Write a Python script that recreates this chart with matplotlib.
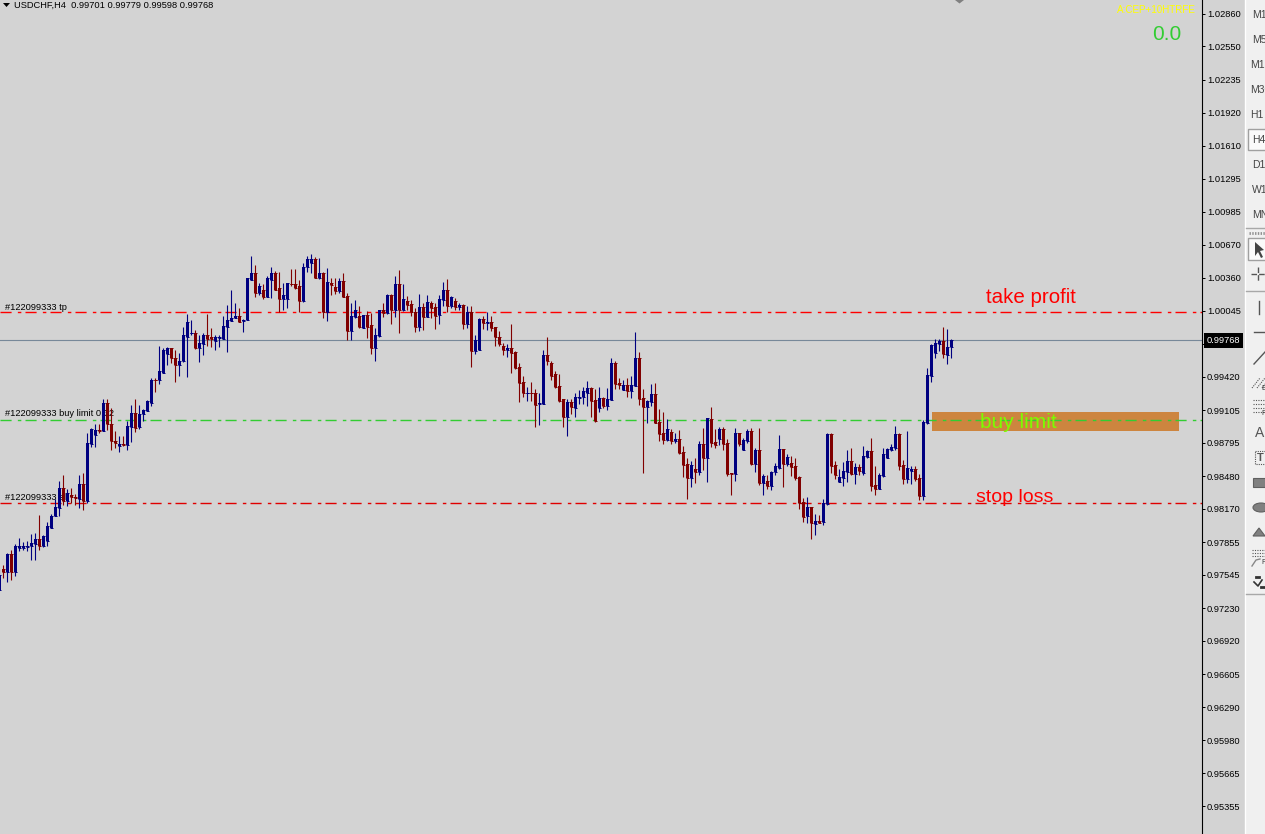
import matplotlib
matplotlib.use('Agg')
import matplotlib.pyplot as plt
import matplotlib.patches as mpatches
import numpy as np

# USDCHF H4 candles, prices in points (1e-5)
opens = [
  97405,97595,97569,97737,97569,97803,97797,97812,97816,97841,
  97888,97816,97860,97992,98100,98176,98371,98239,98305,98286,
  98267,98400,98239,98788,98873,98920,98902,99167,98977,98816,
  98760,98788,98778,98949,99081,98949,99063,99100,99176,99394,
  99385,99460,99631,99688,99602,99527,99565,99801,99830,99839,
  99697,99735,99820,99792,99754,99789,99782,99896,99947,99972,
  100000,99947,99956,100341,100398,100218,100246,100180,100341,100398,
  100256,100161,100152,100303,100303,100275,100133,100455,100493,100531,
  100360,100398,100032,100304,100266,100228,100323,100181,99849,99982,
  99991,99878,100001,99906,99688,99802,100048,100020,100190,100048,
  100294,100048,100133,100105,100038,99887,100076,99982,100114,100076,
  100001,100143,100237,100086,100133,100076,100095,99915,100038,99660,
  99669,99963,99925,99934,99887,99792,99716,99669,99688,99650,
  99508,99366,99262,99271,99271,99158,99158,99622,99555,99442,
  99328,99205,99035,99177,99120,99215,99224,99271,99309,99196,
  99120,99215,99139,99196,99555,99357,99290,99338,99281,99328,
  99593,99215,99129,99185,99261,98996,98892,98825,98901,98816,
  98835,98712,98598,98466,98551,98522,98788,98646,99024,98806,
  98835,98930,98797,98513,98503,98892,98731,98816,98911,98598,
  98731,98418,98437,98390,98522,98560,98740,98598,98608,98579,
  98475,98238,98106,98191,98030,98058,98049,98219,98882,98589,
  98428,98466,98522,98627,98503,98570,98513,98664,98721,98399,
  98361,98485,98655,98731,98750,98882,98589,98456,98532,98551,
  98466,98295,98986,99432,99649,99735,99763,99630,99701]
closes = [
  97547,97569,97743,97569,97822,97822,97822,97819,97847,97888,
  97816,97910,98005,98106,98182,98371,98239,98324,98280,98270,
  98400,98239,98797,98930,98920,98902,99167,98968,98807,98797,
  98788,98778,98958,99081,98939,99063,99110,99186,99394,99385,
  99470,99678,99688,99593,99527,99565,99811,99943,99839,99697,
  99744,99820,99782,99773,99792,99798,99905,99953,99981,100000,
  99943,99962,100351,100398,100218,100275,100180,100351,100398,100246,
  100161,100190,100306,100294,100265,100133,100464,100531,100531,100360,
  100398,100029,100313,100285,100228,100323,100174,99849,99991,100057,
  99887,100001,99896,99688,99811,100054,100020,100190,100048,100294,
  100048,100152,100095,100029,99887,100076,99982,100124,100067,99991,
  100152,100237,100086,100171,100076,100095,99915,100038,99660,99764,
  99963,99925,99934,99878,99792,99726,99669,99688,99641,99499,
  99357,99271,99271,99262,99148,99167,99622,99574,99432,99319,
  99186,99035,99177,99129,99224,99233,99281,99309,99186,98997,
  99215,99139,99205,99555,99347,99338,99338,99281,99338,99593,
  99205,99129,99195,99261,98986,98882,98825,98930,98816,98835,
  98702,98589,98466,98589,98522,98788,98646,99034,98797,98778,
  98930,98788,98503,98503,98892,98788,98825,98911,98598,98731,
  98418,98485,98390,98522,98579,98740,98598,98664,98570,98466,
  98229,98096,98191,98039,98058,98039,98229,98882,98579,98494,
  98475,98532,98627,98503,98570,98532,98674,98721,98390,98361,
  98494,98693,98740,98759,98882,98579,98456,98560,98551,98456,
  98295,98996,99441,99725,99744,99754,99640,99706,99768]
highs = [
  97595,97642,97752,97775,97841,97894,97853,97863,97935,97942,
  98115,97926,98043,98125,98258,98431,98494,98359,98371,98314,
  98494,98504,98889,98936,98968,98968,99214,99205,99126,98911,
  98857,98857,99000,99157,99214,99157,99119,99198,99410,99410,
  99716,99694,99703,99694,99678,99647,99893,100010,99962,99861,
  99811,99830,100010,99883,99820,99820,100000,100104,100237,100114,
  100073,99969,100357,100568,100474,100310,100303,100373,100461,100420,
  100411,100310,100310,100436,100436,100332,100493,100568,100578,100556,
  100540,100414,100446,100357,100357,100351,100405,100215,100114,100143,
  100089,100001,100042,100020,99878,100057,100114,100200,100200,100379,
  100427,100294,100184,100143,100067,100200,100114,100190,100136,100114,
  100190,100313,100342,100184,100168,100121,100105,100089,100086,99811,
  99979,99991,100032,99991,99887,99849,99742,99735,99915,99660,
  99546,99432,99319,99366,99306,99268,99672,99792,99574,99477,
  99442,99205,99211,99211,99268,99290,99319,99376,99319,99300,
  99319,99224,99309,99593,99565,99404,99385,99404,99423,99840,
  99650,99300,99204,99356,99365,99119,99091,99024,98930,98892,
  98920,98769,98655,98627,98655,98807,98939,99034,99138,98930,
  98949,98949,98835,98513,98939,98892,98844,98930,98939,98750,
  98939,98503,98494,98532,98608,98873,98740,98693,98674,98655,
  98485,98276,98286,98191,98125,98115,98267,98892,98892,98627,
  98551,98617,98731,98750,98608,98598,98769,98731,98844,98579,
  98513,98750,98750,98788,98958,98892,98636,98911,98579,98579,
  98503,99015,99507,99735,99773,99773,99896,99877,99779]
lows = [
  97399,97516,97475,97494,97538,97768,97784,97768,97683,97683,
  97778,97809,97816,97989,98100,98106,98210,98194,98226,98210,
  98179,98163,98226,98756,98756,98883,98902,98914,98725,98741,
  98712,98763,98725,98801,98895,98930,99000,99097,99142,99274,
  99347,99457,99536,99546,99369,99426,99558,99416,99820,99684,
  99558,99625,99716,99700,99672,99703,99779,99653,99947,99972,
  99943,99842,99956,100341,100177,100199,100161,100177,100168,100246,
  100032,100057,100073,100284,100253,100038,100126,100411,100404,100351,
  100347,99972,99947,100190,100200,100215,100174,99764,99764,99979,
  99884,99878,99789,99631,99574,99792,99982,100010,99915,99982,
  99830,100042,100057,99991,99840,99849,99859,99982,99979,99868,
  99915,100089,100032,100067,100051,100057,99868,99878,99508,99631,
  99669,99874,99859,99852,99716,99707,99622,99603,99451,99495,
  99177,99224,99186,99186,98940,98959,99158,99527,99385,99309,
  99177,98940,98855,99063,99035,99158,99158,99139,99035,98987,
  99091,99126,99110,99196,99300,99300,99290,99224,99215,99328,
  99148,98504,98983,99147,98986,98816,98788,98816,98788,98797,
  98693,98475,98267,98380,98418,98494,98541,98428,98759,98750,
  98778,98731,98485,98305,98437,98769,98731,98797,98589,98522,
  98399,98305,98361,98352,98494,98551,98380,98579,98485,98447,
  98172,98049,98039,97888,97926,98039,98020,98210,98513,98453,
  98428,98390,98428,98494,98409,98494,98494,98652,98342,98305,
  98361,98475,98655,98721,98731,98541,98409,98418,98409,98437,
  98257,98257,98977,99375,99602,99668,99593,99545,99598]

tick_labels = ['1.02860','1.02550','1.02235','1.01920','1.01610','1.01295','1.00985',
  '1.00670','1.00360','1.00045','0.99730','0.99420','0.99105','0.98795','0.98480',
  '0.98170','0.97855','0.97545','0.97230','0.96920','0.96605','0.96290','0.95980',
  '0.95665','0.95355']
timeframes = ['M1','M5','M15','M30','H1','H4','D1','W1','MN']

tp_price = 1.00030
buy_price = 0.99015
sl_price = 0.98225
last_price = 0.99768
zone_top = 0.99082
zone_bottom = 0.98911

BG = '#d3d3d3'
BLUE = '#000080'
RED = '#800000'
FONT = 'Liberation Sans'

o = np.array(opens) / 1e5
c = np.array(closes) / 1e5
h = np.array(highs) / 1e5
l = np.array(lows) / 1e5
x = np.arange(len(o))
colors = [BLUE if cc >= oo else RED for oo, cc in zip(o, c)]

fig = plt.figure(figsize=(12.65, 8.34), dpi=100, facecolor=BG)
ax = fig.add_axes([0, 0, 1202 / 1265, 1], facecolor=BG)
ax.set_xlim(0.1675, 300.67)
ax.set_ylim(0.95090, 1.02988)

dash = (0, (8, 4.5, 2.5, 3))
ax.axhspan(zone_bottom, zone_top, xmin=932 / 1202, xmax=1179 / 1202, color='#cd853f', lw=0, zorder=1)
ax.axhline(tp_price, color='#ff0000', lw=1, ls=dash, zorder=2)
ax.axhline(buy_price, color='#32cd32', lw=1, ls=dash, zorder=2)
ax.axhline(sl_price, color='#e00000', lw=1, ls=dash, zorder=2)
ax.axhline(last_price, color='#778899', lw=0.8, zorder=2)

ax.text(1.4, tp_price + 0.00050, '#122099333 tp', fontsize=6.7, family=FONT, va='center', zorder=3)
ax.text(1.4, buy_price + 0.00055, '#122099333 buy limit 0.32', fontsize=6.7, family=FONT, va='center', zorder=3)
ax.text(1.4, sl_price + 0.00055, '#122099333 sl', fontsize=6.7, family=FONT, va='center', zorder=3)

ax.vlines(x, l, h, colors=colors, lw=0.8, zorder=4)
ax.bar(x, c - o, bottom=o, width=0.75, color=colors, lw=0, zorder=5)
# open and close ticks keep the dojis visible
ax.hlines(o, x - 0.375, x + 0.375, colors=colors, lw=0.72, zorder=5)
ax.hlines(c, x - 0.375, x + 0.375, colors=colors, lw=0.72, zorder=5)

# hand drawn labels
ax.text(1031.5 / 4, 1.00085, 'take profit', color='#ff0000', fontsize=14.8, family=FONT, ha='center', va='bottom', zorder=6)
ax.text(1019.5 / 4, 0.98990, 'buy limit', color='#7cfc00', fontsize=15, family=FONT, ha='center', va='center', zorder=6)
ax.text(1015 / 4, 0.98275, 'stop loss', color='#ff0000', fontsize=14, family=FONT, ha='center', va='center', zorder=6)

for s in ['top', 'left', 'bottom']:
  ax.spines[s].set_visible(False)
ax.spines['right'].set_color('black')
ax.spines['right'].set_linewidth(0.8)
ax.set_xticks([])
ax.yaxis.tick_right()
ax.set_yticks([float(t) for t in tick_labels])
ax.set_yticklabels(tick_labels, fontsize=6.7, family=FONT, color='black')
ax.tick_params(axis='y', length=2.5, width=0.72, pad=1)

# last price box
fig.text(1223.5 / 1265, 1 - 340.5 / 834, '0.99768', color='white', fontsize=6.7, family=FONT,
  ha='center', va='center', zorder=10,
  bbox=dict(facecolor='black', edgecolor='black', pad=2, lw=0))

# header
fig.text(14 / 1265, 1 - 5 / 834, 'USDCHF,H4  0.99701 0.99779 0.99598 0.99768', fontsize=6.7,
  family=FONT, va='center', color='black')
fig.text(1117 / 1265, 1 - 10 / 834, 'A:CEP+10HTRFE', fontsize=7.1, family=FONT, va='center', color='#ffff00')
fig.text(1167 / 1265, 1 - 35 / 834, '0.0', fontsize=15, family=FONT, va='center', ha='center', color='#32cd32')

# full figure overlay for the window chrome, in pixels
over = fig.add_axes([0, 0, 1, 1], facecolor='none')
over.set_xlim(0, 1265)
over.set_ylim(834, 0)
over.axis('off')
over.add_patch(mpatches.Polygon([(3, 3), (10, 3), (6.5, 7)], color='black', lw=0))
over.add_patch(mpatches.Polygon([(955, 0), (964, 0), (959.5, 3.5)], color='#808080', lw=0))

# toolbar
over.add_patch(mpatches.Rectangle((1245, 0), 20, 834, color='#f0f0f0', lw=0))
over.plot([1245, 1245], [0, 834], color='white', lw=1)
GREY = '#555555'
tf_y = [15, 40, 65, 90, 115, 140, 165, 190, 215]
over.add_patch(mpatches.Rectangle((1247.5, 128.5), 20, 21, facecolor='#fafafa', edgecolor='#a0a0a0', lw=1))
for t, y in zip(timeframes, tf_y):
  over.text(1252 if len(t) == 2 and t != 'H1' else 1250, y, t, fontsize=7.5, family=FONT, color='#444444', ha='left', va='center', clip_on=True)
for y in [227.5, 290.5, 594]:
  over.plot([1246, 1265], [y, y], color='#a8a8a8', lw=1)
over.plot([1249, 1265], [232.5, 232.5], color='#909090', lw=2, ls=(0, (0.5, 0.5)))
over.add_patch(mpatches.Rectangle((1247.5, 237.5), 20, 22, facecolor='#fafafa', edgecolor='#a0a0a0', lw=1))
over.add_patch(mpatches.Polygon([(1255, 242), (1255, 256), (1258, 252), (1261, 258), (1263, 257), (1260, 251), (1264, 250)], color='#444444', lw=0))
over.plot([1251, 1265], [274, 274], color=GREY, lw=1, ls=(0, (4, 1.5)))
over.plot([1258, 1258], [267, 281], color=GREY, lw=1, ls=(0, (4, 1.5)))
over.plot([1259, 1259], [301, 314], color=GREY, lw=1)
over.plot([1254, 1265], [332, 332], color=GREY, lw=1)
over.plot([1254, 1265], [364, 352], color=GREY, lw=1)
for d in [0, 5, 10]:
  over.plot([1252 + d, 1260 + d], [388, 378], color=GREY, lw=0.8, ls=(0, (1, 1)))
over.text(1264, 388, 'E', fontsize=5, family=FONT, color='#333333', ha='center', va='center')
for y in [400, 404, 408, 412]:
  over.plot([1253, 1265], [y, y], color=GREY, lw=0.8, ls=(0, (1, 1.2)))
over.text(1264, 413, 'F', fontsize=5, family=FONT, color='#333333', ha='center', va='center')
over.text(1259.5, 433, 'A', fontsize=10, family=FONT, color='#555555', ha='center', va='center')
over.add_patch(mpatches.Rectangle((1254.5, 451), 14, 13, fill=False, edgecolor=GREY, lw=0.8, ls=(0, (1, 1))))
over.text(1260, 458, 'T', fontsize=8, family=FONT, color='#555555', fontweight='bold', ha='center', va='center')
over.add_patch(mpatches.Rectangle((1253, 478), 16, 9, facecolor='#808080', edgecolor='#606060', lw=0.8))
over.add_patch(mpatches.Ellipse((1261, 507.5), 16, 9, facecolor='#808080', edgecolor='#606060', lw=0.8))
over.add_patch(mpatches.Polygon([(1253, 536), (1265, 536), (1259, 528)], facecolor='#808080', edgecolor='#606060', lw=0.8))
for y in [550, 553, 556]:
  over.plot([1252, 1265], [y, y], color=GREY, lw=0.8, ls=(0, (1, 1.2)))
over.plot([1252, 1256, 1260], [566, 560, 559], color='#888888', lw=1)
over.text(1264, 563, 'F', fontsize=5, family=FONT, color='#333333', ha='center', va='center')
over.plot([1254, 1258, 1262], [582, 586, 580], color='#333333', lw=1.2)
over.plot([1256, 1259], [577, 577], color='#333333', lw=2)
over.plot([1261, 1265], [587, 587], color='#333333', lw=2)

fig.savefig('out.png', dpi=100, facecolor=BG)
